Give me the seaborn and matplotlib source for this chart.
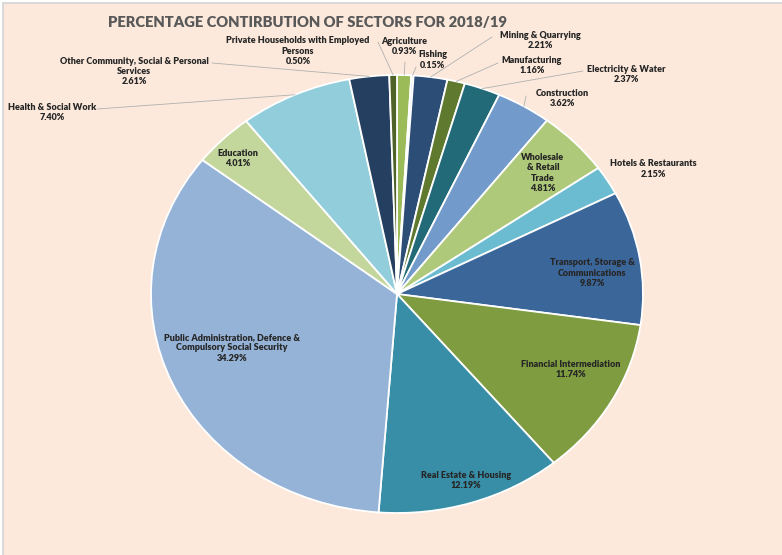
import numpy as np
import matplotlib
matplotlib.use("Agg")
import matplotlib.pyplot as plt
from matplotlib.patches import Rectangle
from matplotlib.lines import Line2D
import seaborn as sns

# Sector shares of GDP, 2018/19 (clockwise from 12 o'clock)
sectors = [
    "Agriculture", "Fishing", "Mining & Quarrying", "Manufacturing",
    "Electricity & Water", "Construction", "Wholesale & Retail Trade",
    "Hotels & Restaurants", "Transport, Storage & Communications",
    "Financial Intermediation", "Real Estate & Housing",
    "Public Administration, Defence & Compulsory Social Security",
    "Education", "Health & Social Work",
    "Other Community, Social & Personal Services",
    "Private Households with Employed Persons",
]
shares = [0.93, 0.15, 2.21, 1.16, 2.37, 3.62, 4.81, 2.15, 9.87,
          11.74, 12.19, 34.29, 4.01, 7.40, 2.61, 0.50]

# label text as wrapped on the chart
label_text = [
    "Agriculture", "Fishing", "Mining & Quarrying", "Manufacturing",
    "Electricity & Water", "Construction", "Wholesale\n& Retail\nTrade",
    "Hotels & Restaurants", "Transport, Storage &\nCommunications",
    "Financial Intermediation", "Real Estate & Housing",
    "Public Administration, Defence &\nCompulsory Social Security",
    "Education", "Health & Social Work",
    "Other Community, Social & Personal\nServices",
    "Private Households with Employed\nPersons",
]

slice_colors = [
    "#9bbb59", "#b7dee8", "#2c4d75", "#5f7a2e", "#236a78", "#729aca",
    "#afc97a", "#6bbcd0", "#3b6699", "#7f9c40", "#378ea6", "#95b3d7",
    "#c3d69b", "#92cddc", "#243f60", "#4f6228",
]

# label block centres (pixels, from top-left) and leader-line start points
label_pos = [
    (404, 46.5), (433, 60), (540, 40.5), (532, 65.5), (626, 74.5),
    (562, 98.5), (543, 173), (653, 169), (592, 273), (571, 369.5),
    (466, 480.5), (232, 348), (238, 158.5), (52, 112.5), (134, 71.5),
    (298, 51),
]
leader_start = [
    (405, 62), (416, 67), (492, 37), (498, 63), (583, 71),
    (526, 96), None, None, None, None,
    None, None, None, (97, 109), (212, 63),
    (378, 42),
]

W, H = 782, 555
BG = "#fce9db"

sns.set_theme(style="white")
plt.rcParams["font.family"] = ["Lato", "DejaVu Sans"]


def fp(x, y):
    return (x / W, 1 - y / H)


fig = plt.figure(figsize=(W / 100, H / 100), dpi=100, facecolor="white")

# chart area background with thin border on left and top
fig.patches.append(Rectangle(fp(3, H), (W - 3) / W, (H - 3) / H,
                             transform=fig.transFigure, facecolor=BG,
                             edgecolor="none", zorder=-5))
fig.lines.append(Line2D([3 / W, 3 / W], [0, 1 - 3 / H], transform=fig.transFigure,
                        color="#d4d4d4", lw=1.2, zorder=-4))
fig.lines.append(Line2D([3 / W, 1], [1 - 3 / H, 1 - 3 / H], transform=fig.transFigure,
                        color="#d4d4d4", lw=1.2, zorder=-4))

ax = fig.add_axes([151 / W, 1 - 513 / H, 492 / W, 438 / H])
ax.patch.set_visible(False)
wedges, _ = ax.pie(shares, colors=slice_colors, startangle=90, counterclock=False,
                   wedgeprops=dict(edgecolor="white", linewidth=1.3))
ax.set_aspect("auto")
ax.set_xlim(-1, 1)
ax.set_ylim(-1, 1)
ax.axis("off")

for w, name, val, (lx, ly), start in zip(wedges, label_text, shares,
                                         label_pos, leader_start):
    fig.text(lx / W, 1 - ly / H, f"{name}\n{val:.2f}%", ha="center", va="center",
             fontsize=6.5, fontweight="heavy", color="#262626", linespacing=1.2,
             zorder=5)
    if start is not None:
        mid = np.deg2rad((w.theta1 + w.theta2) / 2)
        ax.annotate("", xy=(np.cos(mid), np.sin(mid)), xycoords="data",
                    xytext=fp(*start), textcoords="figure fraction",
                    arrowprops=dict(arrowstyle="-", color="#b0b0b0", lw=0.6,
                                    shrinkA=0, shrinkB=0),
                    annotation_clip=False)

fig.text(308 / W, 1 - 22 / H, "PERCENTAGE CONTIRBUTION OF SECTORS FOR 2018/19",
         ha="center", va="center", fontsize=10.6, fontweight="heavy", color="#595959")

fig.savefig("out.png", dpi=100, facecolor="white")
